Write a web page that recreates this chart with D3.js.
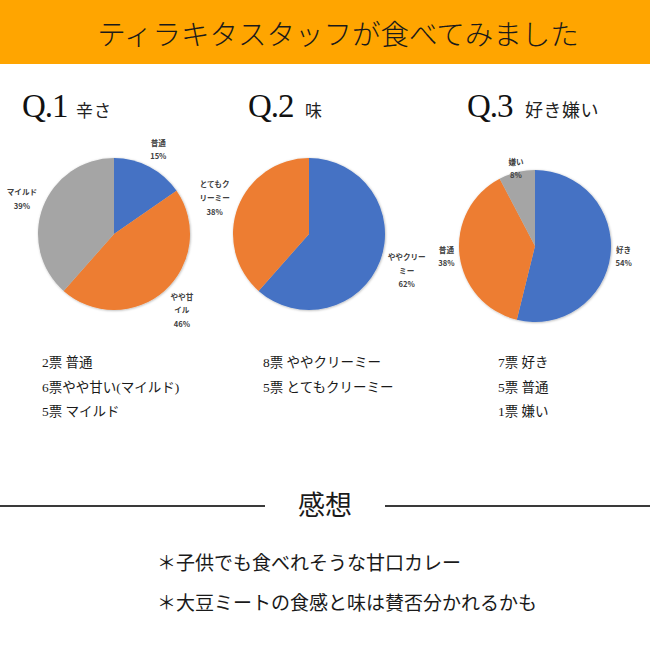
<!DOCTYPE html>
<html><head><meta charset="utf-8">
<script src="https://cdn.jsdelivr.net/npm/d3@7"></script>
<style>body{margin:0;background:#fff}</style>
</head><body><svg id="c" width="650" height="650"></svg>
<script>
// ---- data ----
const titleText = "ティラキタスタッフが食べてみました";
const questionNums = ["Q.1", "Q.2", "Q.3"];
const questionTopics = ["辛さ", "味", "好き嫌い"];

const q1Votes = [2, 6, 5];
const q1Pct = [15, 46, 39];
const q1LabelLines = [["普通"], ["やや甘", "イル"], ["マイルド"]];

const q2Votes = [8, 5];
const q2Pct = [62, 38];
const q2LabelLines = [["ややクリー", "ミー"], ["とてもク", "リーミー"]];

const q3Votes = [7, 5, 1];
const q3Pct = [54, 38, 8];
const q3LabelLines = [["好き"], ["普通"], ["嫌い"]];

const q1Tally = ["2票 普通", "6票やや甘い(マイルド)", "5票 マイルド"];
const q2Tally = ["8票 ややクリーミー", "5票 とてもクリーミー"];
const q3Tally = ["7票 好き", "5票 普通", "1票 嫌い"];

const impressionsHeading = "感想";
const impressions = ["＊子供でも食べれそうな甘口カレー", "＊大豆ミートの食感と味は賛否分かれるかも"];

// ---- layout / style ----
const sliceColors = ["#4472C4", "#ED7D31", "#A5A5A5"];
const sans = "'Noto Sans CJK JP', 'Noto Sans', sans-serif";
const serif = "'Liberation Serif', 'DejaVu Serif', 'Noto Sans CJK JP', serif";
const panels = [
  {votes: q1Votes, pct: q1Pct, lines: q1LabelLines, tally: q1Tally, cx: 114, cy: 234, qx: 22, tx: 76, topicSize: 17, listX: 42, inset: [0, 0, 0]},
  {votes: q2Votes, pct: q2Pct, lines: q2LabelLines, tally: q2Tally, cx: 309, cy: 234, qx: 248, tx: 305, topicSize: 17, listX: 263, inset: [0, 0]},
  {votes: q3Votes, pct: q3Pct, lines: q3LabelLines, tally: q3Tally, cx: 535, cy: 246, qx: 467, tx: 525, topicSize: 18, listX: 498, inset: [0, 0, 15]}
];
const R = 76;

const svg = d3.select("#c");
const defs = svg.append("defs");
const f = defs.append("filter").attr("id", "sh").attr("x", "-10%").attr("y", "-10%").attr("width", "120%").attr("height", "120%");
f.append("feDropShadow").attr("dx", 0.6).attr("dy", 0.6).attr("stdDeviation", 0.9).attr("flood-color", "#000").attr("flood-opacity", 0.3);

// header
svg.append("rect").attr("x", 0).attr("y", 0).attr("width", 650).attr("height", 64).attr("fill", "#FFA500");
svg.append("text").attr("x", 338).attr("y", 45).attr("text-anchor", "middle")
  .attr("font-family", sans).attr("font-weight", 300).attr("font-size", 28.5).attr("fill", "#1a1a1a")
  .text(titleText);

const pie = d3.pie().sort(null).value(d => d);
const arc = d3.arc().innerRadius(0).outerRadius(R);

panels.forEach((p, qi) => {
  // heading
  svg.append("text").attr("x", p.qx).attr("y", 117).attr("font-family", serif).attr("font-size", 33)
    .attr("fill", "#111").attr("letter-spacing", -1).text(questionNums[qi]);
  svg.append("text").attr("x", p.tx).attr("y", 117).attr("font-family", sans).attr("font-size", p.topicSize)
    .attr("fill", "#222").attr("letter-spacing", qi === 2 ? 0.5 : 1).text(questionTopics[qi]);

  const g = svg.append("g").attr("transform", `translate(${p.cx},${p.cy})`);
  const arcs = pie(p.votes);
  g.append("g").attr("filter", "url(#sh)").selectAll("path").data(arcs).join("path")
    .attr("d", arc).attr("fill", (d, i) => sliceColors[i]);

  // labels
  const lineH = 13.6;
  arcs.forEach((d, i) => {
    const lines = p.lines[i].concat([p.pct[i] + "%"]);
    const lg = g.append("g");
    const texts = lg.selectAll("text").data(lines).join("text")
      .attr("text-anchor", "middle").attr("font-family", sans).attr("font-weight", 700)
      .attr("font-size", 7.6).attr("fill", "#404040").text(t => t);
    let w = 0;
    texts.each(function () { w = Math.max(w, this.getComputedTextLength()); });
    const h = lines.length * lineH;
    const a = (d.startAngle + d.endAngle) / 2;
    const sx = Math.sin(a), sy = -Math.cos(a);
    const dist = R + 3.5 + (w / 2) * Math.abs(sx) + (h / 2) * Math.abs(sy) - p.inset[i];
    const bx = sx * dist, by = sy * dist;
    texts.attr("x", bx).attr("y", (t, k) => by - h / 2 + lineH * (k + 0.5) + 2.7);
  });

  // tally list
  svg.append("g").selectAll("text").data(p.tally).join("text")
    .attr("x", p.listX).attr("y", (t, k) => 367 + k * 24.5)
    .attr("font-family", serif).attr("font-size", 13.5).attr("fill", "#1a1a1a").text(t => t);
});

// impressions section
svg.append("line").attr("x1", 0).attr("x2", 265).attr("y1", 506).attr("y2", 506).attr("stroke", "#3a3a3a").attr("stroke-width", 2.2);
svg.append("line").attr("x1", 385).attr("x2", 650).attr("y1", 506).attr("y2", 506).attr("stroke", "#3a3a3a").attr("stroke-width", 2.2);
svg.append("text").attr("x", 325).attr("y", 515).attr("text-anchor", "middle").attr("font-family", sans)
  .attr("font-size", 27).attr("fill", "#1a1a1a").text(impressionsHeading);
svg.append("g").selectAll("text").data(impressions).join("text")
  .attr("x", 157).attr("y", (t, k) => 570 + k * 40)
  .attr("font-family", sans).attr("font-size", 19).attr("fill", "#1a1a1a").text(t => t);
</script></body></html>
